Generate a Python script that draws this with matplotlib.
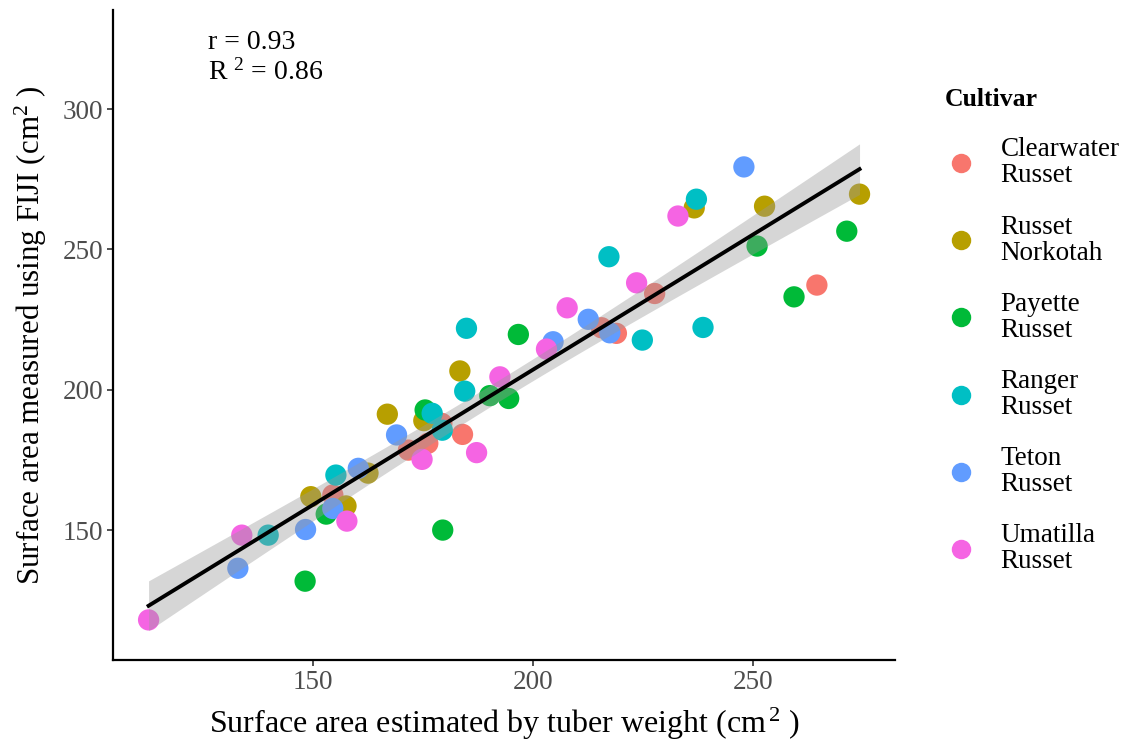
import numpy as np
import matplotlib.pyplot as plt
from matplotlib.lines import Line2D

plt.rcParams['font.family'] = ['Liberation Serif', 'DejaVu Serif']
plt.rcParams['mathtext.fontset'] = 'custom'
plt.rcParams['mathtext.rm'] = 'Liberation Serif'
plt.rcParams['mathtext.it'] = 'Liberation Serif:italic'

# cultivar names and colours (ggplot default hue palette)
cultivars = ['Clearwater\nRusset', 'Russet\nNorkotah', 'Payette\nRusset',
             'Ranger\nRusset', 'Teton\nRusset', 'Umatilla\nRusset']
colors = ['#F8766D', '#B79F00', '#00BA38', '#00BFC4', '#619CFF', '#F564E3']

# surface area estimated by tuber weight (x) / measured with FIJI (y)
clearwater_x = [154.5, 179.3, 171.7, 176.1, 184.0, 227.7, 264.6, 215.6, 219.0]
clearwater_y = [162.5, 188.0, 178.5, 180.9, 184.1, 234.3, 237.3, 222.1, 220.1]
norkotah_x = [149.5, 162.5, 157.5, 183.4, 166.9, 175.2, 274.3, 252.7, 236.7]
norkotah_y = [161.9, 170.3, 158.6, 206.7, 191.3, 189.0, 269.7, 265.4, 264.8]
payette_x = [148.2, 153.0, 196.7, 190.2, 194.5, 175.5, 179.5, 271.4, 251.0, 259.4]
payette_y = [131.8, 155.7, 219.7, 197.9, 196.9, 192.8, 150.0, 256.5, 251.2, 233.1]
ranger_x = [139.8, 155.2, 184.9, 184.5, 177.1, 179.4, 237.2, 217.3, 224.9, 238.7]
ranger_y = [148.2, 169.6, 221.9, 199.5, 191.6, 185.6, 267.9, 247.4, 217.7, 222.2]
teton_x = [132.9, 148.3, 160.3, 154.5, 169.0, 248.0, 204.6, 212.6, 217.5]
teton_y = [136.4, 150.2, 172.0, 157.7, 183.9, 279.4, 217.1, 225.1, 220.3]
umatilla_x = [112.6, 133.8, 157.7, 192.5, 174.8, 187.2, 233.0, 223.6, 207.8, 203.1]
umatilla_y = [118.0, 148.2, 153.2, 204.6, 175.2, 177.6, 261.9, 238.1, 229.2, 214.5]

groups_x = [clearwater_x, norkotah_x, payette_x, ranger_x, teton_x, umatilla_x]
groups_y = [clearwater_y, norkotah_y, payette_y, ranger_y, teton_y, umatilla_y]

fig = plt.figure(figsize=(11.23, 7.48), dpi=100)
ax = fig.add_axes([0.1006, 0.1176, 0.6965, 0.869])

for gx, gy, c in zip(groups_x, groups_y, colors):
    ax.scatter(gx, gy, s=235, color=c, edgecolors='none', zorder=2)

# linear fit with 95% confidence band (like geom_smooth(method='lm'))
x = np.concatenate([np.array(g) for g in groups_x])
y = np.concatenate([np.array(g) for g in groups_y])
n = len(x)
b, a = np.polyfit(x, y, 1)
xs = np.linspace(x.min(), x.max(), 80)
ys = a + b * xs
resid = y - (a + b * x)
s = np.sqrt(np.sum(resid ** 2) / (n - 2))
se = s * np.sqrt(1 / n + (xs - x.mean()) ** 2 / np.sum((x - x.mean()) ** 2))
t = 2.004
ax.fill_between(xs, ys - t * se, ys + t * se, color='#999999', alpha=0.4,
                linewidth=0, zorder=3)
ax.plot(xs, ys, color='black', linewidth=2.8, zorder=4)

ax.text(126.0, 323.6, 'r = 0.93', fontsize=20, va='center', ha='left')
ax.text(126.0, 313.2, 'R $^{2}$ = 0.86', fontsize=20, va='center', ha='left')

ax.set_xlim(104.5, 282.4)
ax.set_ylim(103.7, 335.3)
ax.set_xticks([150, 200, 250])
ax.set_yticks([150, 200, 250, 300])
ax.tick_params(direction='out', length=4, width=1.2, color='#333333',
               labelcolor='#4D4D4D', labelsize=19.5, pad=3)
for side in ['top', 'right']:
    ax.spines[side].set_visible(False)
for side in ['left', 'bottom']:
    ax.spines[side].set_linewidth(1.6)
    ax.spines[side].set_color('black')

ax.set_xlabel('Surface area estimated by tuber weight (cm$^{\\,2}$ )', fontsize=23, labelpad=8)
ax.set_ylabel('Surface area measured using FIJI (cm$^{2}$ )', fontsize=22.3, labelpad=10)

handles = [Line2D([], [], marker='o', linestyle='none', markersize=14,
                  markerfacecolor=c, markeredgecolor='none') for c in colors]
leg = fig.legend(handles, cultivars, loc='upper left', bbox_to_anchor=(0.82, 0.915),
                 frameon=False, fontsize=19.5, title='Cultivar',
                 title_fontproperties={'weight': 'bold', 'size': 18.5},
                 labelspacing=0.97, handletextpad=0.85, handlelength=1.2,
                 alignment='left')
leg._legend_box.sep = 19
for txt in leg.get_texts():
    txt.set_linespacing(1.05)

fig.savefig('out.png', dpi=100)
